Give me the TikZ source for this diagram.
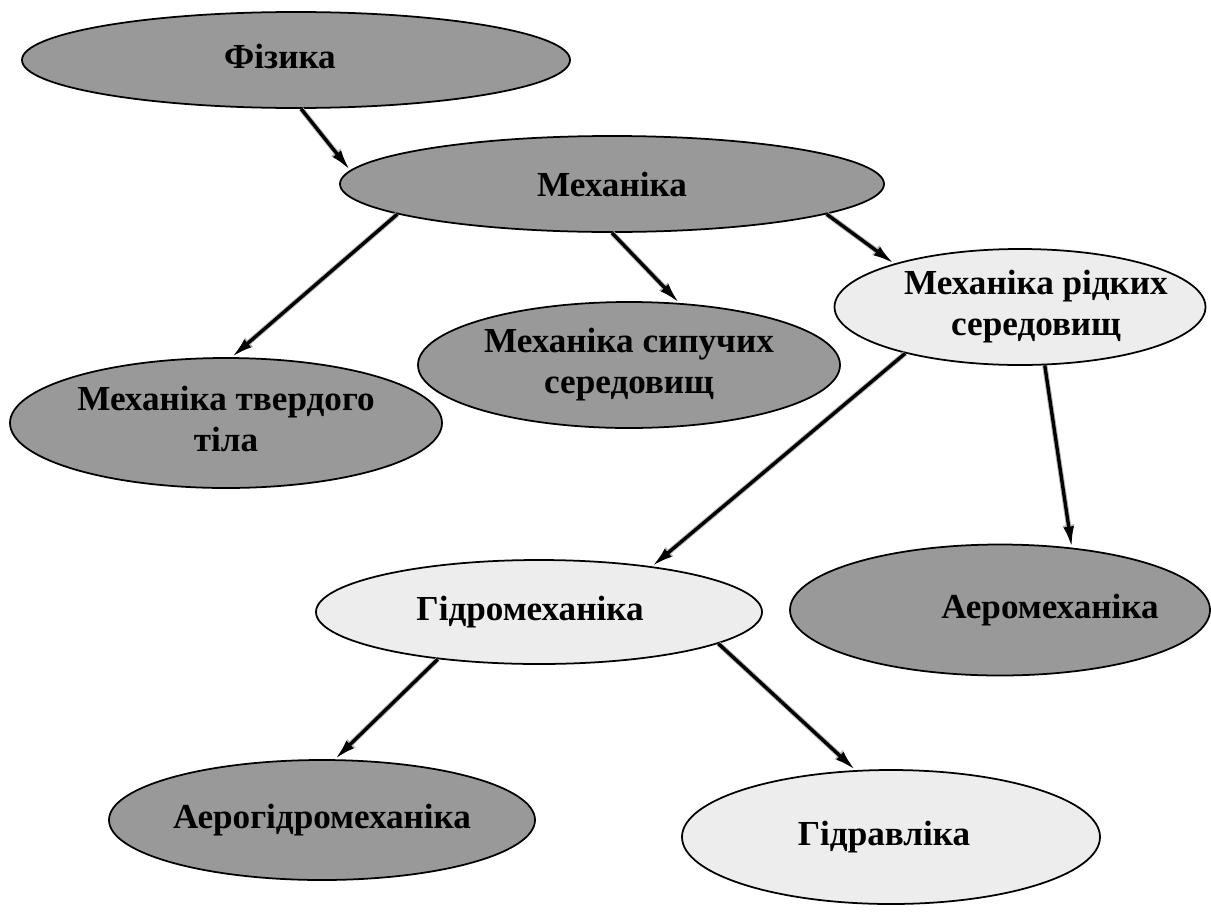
\documentclass[tikz,border=0pt]{standalone}
\usepackage{fontspec}
\setmainfont{Liberation Serif}
\usetikzlibrary{arrows.meta}
\usetikzlibrary{shapes.geometric}

% text moved sideways inside an ellipse without widening it
\newcommand{\offsetText}[2]{\makebox[0pt]{\hspace*{#1}\begin{tabular}{@{}c@{}}#2\end{tabular}}}

\begin{document}
\begin{tikzpicture}[
    darkNode/.style={
        ellipse, draw, line width=1pt, fill=black!40,
        inner sep=0pt,
        font=\fontsize{20}{23}\selectfont\bfseries,
        align=center
    },
    lightNode/.style={
        darkNode, fill=black!7
    },
    branchArrow/.style={
        -{Latex[length=12pt,width=6pt]}, line width=1.9pt, black,
        preaction={draw, black!30, line width=3pt,
            -{Latex[length=13pt,width=7pt]}}
    }
]
\useasboundingbox (0,0) rectangle (24.22,-18.44);
% top of the tree
\node[darkNode, minimum width=10.96cm, minimum height=1.92cm] (fiz) at (5.92,-1.20) {\offsetText{-0.64cm}{Фізика}};
\node[darkNode, minimum width=10.88cm, minimum height=1.92cm] (mech) at (12.24,-3.68) {Механіка};
% branches of mechanics
\node[darkNode, minimum width=8.64cm, minimum height=2.60cm] (solid) at (4.52,-8.46) {\offsetText{0cm}{Механіка твердого\\тіла}};
\node[darkNode, minimum width=8.44cm, minimum height=2.52cm] (granular) at (12.58,-7.30) {\offsetText{0cm}{Механіка сипучих\\середовищ}};
\node[lightNode, minimum width=7.42cm, minimum height=2.32cm] (fluid) at (20.40,-6.14) {\offsetText{0.64cm}{Механіка рідких\\середовищ}};
% fluids
\node[lightNode, minimum width=8.92cm, minimum height=2.08cm] (hydro) at (10.78,-12.24) {\offsetText{-0.36cm}{Гідромеханіка}};
\node[darkNode, minimum width=8.40cm, minimum height=2.62cm] (aero) at (20.00,-12.20) {\offsetText{2cm}{Аеромеханіка}};
\node[darkNode, minimum width=8.52cm, minimum height=2.40cm] (aerohydro) at (6.44,-16.40) {Аерогідромеханіка};
\node[lightNode, minimum width=8.36cm, minimum height=2.68cm] (hydraulics) at (17.82,-16.74) {\offsetText{-0.28cm}{Гідравліка}};

\draw[branchArrow] (fiz.276.5) -- (mech.177);
\draw[branchArrow] (mech.188.5) -- (solid.85);
\draw[branchArrow] (mech.270) -- (granular.51.5);
\draw[branchArrow] (mech.352) -- (fluid.161.5);
\draw[branchArrow] (fluid.202) -- (hydro.22.6);
\draw[branchArrow] (fluid.293) -- (aero.41);
\draw[branchArrow] (hydro.205) -- (aerohydro.78);
\draw[branchArrow] (hydro.350.5) -- (hydraulics.118.6);
\end{tikzpicture}
\end{document}
